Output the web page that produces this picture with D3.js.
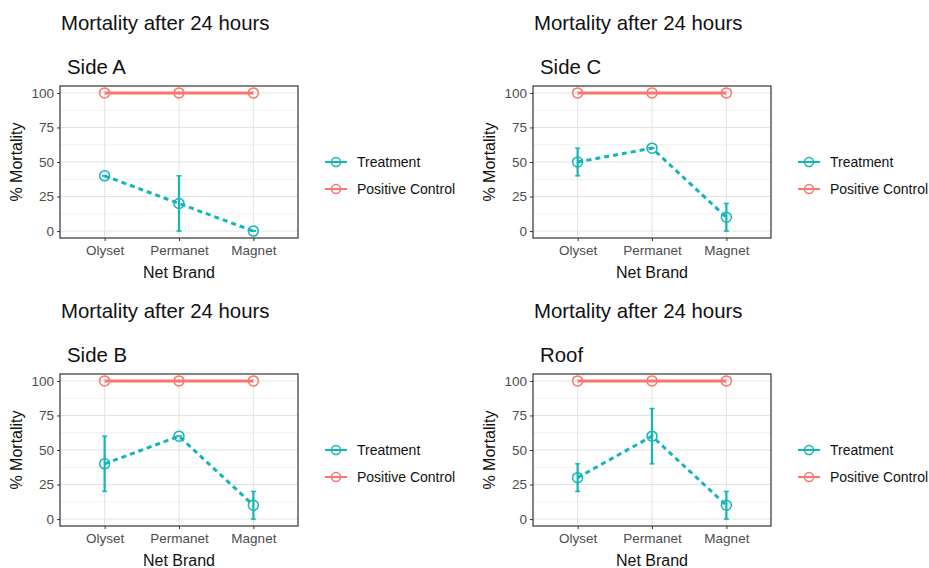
<!DOCTYPE html>
<html lang="en">
<head>
<meta charset="UTF-8">
<title>Mortality after 24 hours</title>
<script src="https://d3js.org/d3.v7.min.js"></script>
<style>
body{margin:0;background:#fff}
svg{display:block;font-family:"Liberation Sans",Arial,sans-serif}
.grid-major{stroke:#e3e3e3;stroke-width:1}
.grid-minor{stroke:#ececec;stroke-width:0.8}
.axis text{fill:#4d4d4d;font-size:13.5px}
.axis line{stroke:#333}
.axis path{display:none}
</style>
</head>
<body>
<div id="chart"></div>
<script>
var categories = ['Olyset', 'Permanet', 'Magnet'];
var yTicks = [0, 25, 50, 75, 100];
var yMinor = [12.5, 37.5, 62.5, 87.5];
var seriesNames = ['Treatment', 'Positive Control'];
var seriesColors = ['#13b5b9', '#f8766d'];

var panelNames = ['Side A', 'Side C', 'Side B', 'Roof'];

// treatment means and error bar limits per panel
var sideATreatment = [40, 20, 0];
var sideALow = [40, 0, 0];
var sideAHigh = [40, 40, 0];

var sideCTreatment = [50, 60, 10];
var sideCLow = [40, 60, 0];
var sideCHigh = [60, 60, 20];

var sideBTreatment = [40, 60, 10];
var sideBLow = [20, 60, 0];
var sideBHigh = [60, 60, 20];

var roofTreatment = [30, 60, 10];
var roofLow = [20, 40, 0];
var roofHigh = [40, 80, 20];

var controlValues = [100, 100, 100];

var panels = [
  { name: panelNames[0], mean: sideATreatment, lo: sideALow, hi: sideAHigh, ox: 0, oy: 0 },
  { name: panelNames[1], mean: sideCTreatment, lo: sideCLow, hi: sideCHigh, ox: 473, oy: 0 },
  { name: panelNames[2], mean: sideBTreatment, lo: sideBLow, hi: sideBHigh, ox: 0, oy: 288 },
  { name: panelNames[3], mean: roofTreatment, lo: roofLow, hi: roofHigh, ox: 473, oy: 288 }
];

var svg = d3.select('#chart').append('svg').attr('width', 929).attr('height', 568);

var box = { left: 60, right: 298, top: 86, bottom: 238 };

var x = d3.scalePoint().domain(categories).range([box.left, box.right]).padding(0.6);
var y = d3.scaleLinear().domain([-5, 105]).range([box.bottom, box.top]);

panels.forEach(function(p) {
  var g = svg.append('g').attr('transform', 'translate(' + p.ox + ',' + p.oy + ')');

  g.append('text').attr('x', 61).attr('y', 29.5).attr('font-size', '20.4px').attr('fill', '#111')
    .text('Mortality after 24 hours');
  g.append('text').attr('x', 67).attr('y', 74).attr('font-size', '20.4px').attr('fill', '#111')
    .text(p.name);

  // grid
  g.selectAll('.grid-minor').data(yMinor).join('line').attr('class', 'grid-minor')
    .attr('x1', box.left).attr('x2', box.right)
    .attr('y1', function(d) { return y(d); }).attr('y2', function(d) { return y(d); });
  g.selectAll('.grid-major.h').data(yTicks).join('line').attr('class', 'grid-major h')
    .attr('x1', box.left).attr('x2', box.right)
    .attr('y1', function(d) { return y(d); }).attr('y2', function(d) { return y(d); });
  g.selectAll('.grid-major.v').data(categories).join('line').attr('class', 'grid-major v')
    .attr('y1', box.top).attr('y2', box.bottom)
    .attr('x1', function(d) { return x(d); }).attr('x2', function(d) { return x(d); });

  // axes
  g.append('g').attr('class', 'axis').attr('transform', 'translate(' + box.left + ',0)')
    .call(d3.axisLeft(y).tickValues(yTicks).tickSize(3).tickPadding(3));
  g.append('g').attr('class', 'axis').attr('transform', 'translate(0,' + box.bottom + ')')
    .call(d3.axisBottom(x).tickSize(3).tickPadding(4));

  g.append('text').attr('x', (box.left + box.right) / 2).attr('y', 278)
    .attr('text-anchor', 'middle').attr('font-size', '16px').attr('fill', '#111').text('Net Brand');
  g.append('text').attr('transform', 'translate(22,' + (box.top + box.bottom) / 2 + ') rotate(-90)')
    .attr('text-anchor', 'middle').attr('font-size', '16px').attr('fill', '#111').text('% Mortality');

  // control series
  var line = d3.line().x(function(d, i) { return x(categories[i]); }).y(function(d) { return y(d); });
  g.append('path').datum(controlValues).attr('d', line)
    .attr('fill', 'none').attr('stroke', seriesColors[1]).attr('stroke-width', 3);
  g.selectAll('.pc').data(controlValues).join('circle').attr('class', 'pc')
    .attr('cx', function(d, i) { return x(categories[i]); }).attr('cy', function(d) { return y(d); })
    .attr('r', 5).attr('fill', 'none').attr('stroke', seriesColors[1]).attr('stroke-width', 1.5);

  // treatment series
  g.append('path').datum(p.mean).attr('d', line)
    .attr('fill', 'none').attr('stroke', seriesColors[0]).attr('stroke-width', 3)
    .attr('stroke-dasharray', '5,4');
  var eb = g.selectAll('.eb').data(p.mean).join('g').attr('class', 'eb');
  eb.append('line')
    .attr('x1', function(d, i) { return x(categories[i]); }).attr('x2', function(d, i) { return x(categories[i]); })
    .attr('y1', function(d, i) { return y(p.lo[i]); }).attr('y2', function(d, i) { return y(p.hi[i]); })
    .attr('stroke', seriesColors[0]).attr('stroke-width', 2.2);
  ['lo', 'hi'].forEach(function(k) {
    eb.append('line')
      .attr('x1', function(d, i) { return x(categories[i]) - 2.5; }).attr('x2', function(d, i) { return x(categories[i]) + 2.5; })
      .attr('y1', function(d, i) { return y(p[k][i]); }).attr('y2', function(d, i) { return y(p[k][i]); })
      .attr('stroke', seriesColors[0]).attr('stroke-width', 1.5);
  });
  g.selectAll('.tc').data(p.mean).join('circle').attr('class', 'tc')
    .attr('cx', function(d, i) { return x(categories[i]); }).attr('cy', function(d) { return y(d); })
    .attr('r', 5).attr('fill', 'none').attr('stroke', seriesColors[0]).attr('stroke-width', 1.5);

  // panel border
  g.append('rect').attr('x', box.left).attr('y', box.top)
    .attr('width', box.right - box.left).attr('height', box.bottom - box.top)
    .attr('fill', 'none').attr('stroke', '#333').attr('stroke-width', 1.2);

  // legend
  var lg = g.selectAll('.lg').data(seriesNames).join('g').attr('class', 'lg')
    .attr('transform', function(d, i) { return 'translate(325,' + (162 + i * 27) + ')'; });
  lg.append('line').attr('x1', 0).attr('x2', 22)
    .attr('stroke', function(d, i) { return seriesColors[i]; }).attr('stroke-width', 2);
  lg.append('circle').attr('cx', 11).attr('r', 4.5).attr('fill', 'none')
    .attr('stroke', function(d, i) { return seriesColors[i]; }).attr('stroke-width', 1.5);
  lg.append('text').attr('x', 32).attr('y', 5).attr('font-size', '14px').attr('fill', '#111')
    .text(function(d) { return d; });
});
</script>
</body>
</html>
